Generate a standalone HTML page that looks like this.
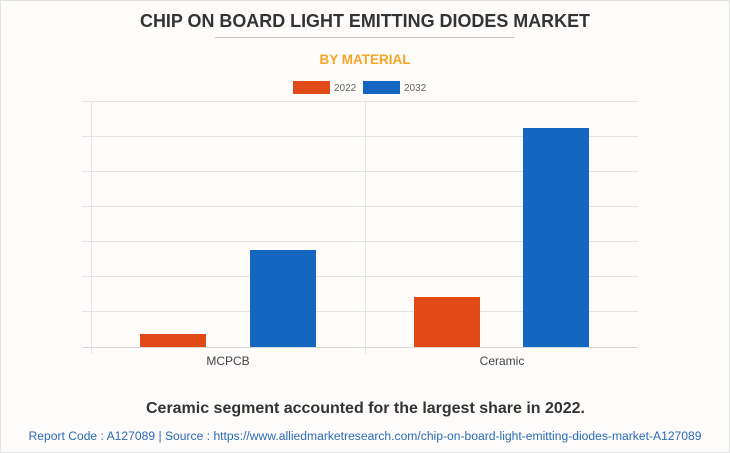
<!DOCTYPE html>
<html><head><style>
html,body{margin:0;padding:0;}
body{width:730px;height:453px;background:#fdfcfb;font-family:"Liberation Sans",sans-serif;position:relative;overflow:hidden;}
</style></head><body>
<svg width="730" height="453" xmlns="http://www.w3.org/2000/svg" style="position:absolute;left:0;top:0">
<rect x="0.5" y="0.5" width="729" height="452" fill="#fdfcfb" stroke="#e2e2e2"/>
<text x="140" y="27" font-family="Liberation Sans" font-weight="bold" font-size="18" fill="#333" textLength="450" lengthAdjust="spacingAndGlyphs">CHIP ON BOARD LIGHT EMITTING DIODES MARKET</text>
<line x1="215" y1="37.5" x2="515" y2="37.5" stroke="#c8c8c8" stroke-width="1"/>
<text x="365" y="64" text-anchor="middle" font-weight="bold" font-size="13.5" fill="#f6a623">BY MATERIAL</text>
<rect x="293" y="81" width="37" height="13" fill="#e04a17"/>
<text x="334" y="91" font-size="10" fill="#666">2022</text>
<rect x="363" y="81" width="37" height="13" fill="#1466c1"/>
<text x="404" y="91" font-size="10" fill="#666">2032</text>
<g stroke="#e4e4e4" stroke-width="1">
<line x1="82" y1="101.5" x2="638" y2="101.5"/>
<line x1="82" y1="136.5" x2="638" y2="136.5"/>
<line x1="82" y1="171.5" x2="638" y2="171.5"/>
<line x1="82" y1="206.5" x2="638" y2="206.5"/>
<line x1="82" y1="241.5" x2="638" y2="241.5"/>
<line x1="82" y1="276.5" x2="638" y2="276.5"/>
<line x1="82" y1="311.5" x2="638" y2="311.5"/>
<line x1="91.5" y1="101" x2="91.5" y2="354"/>
<line x1="365.5" y1="101" x2="365.5" y2="354"/>
</g>
<line x1="82" y1="347.5" x2="638" y2="347.5" stroke="#d8d8d8"/>
<rect x="140" y="334" width="66" height="13" fill="#e04a17"/>
<rect x="250" y="250" width="66" height="97" fill="#1466c1"/>
<rect x="414" y="297" width="66" height="50" fill="#e04a17"/>
<rect x="523" y="128" width="66" height="219" fill="#1466c1"/>
<text x="228" y="365" text-anchor="middle" font-size="12" fill="#444">MCPCB</text>
<text x="502" y="365" text-anchor="middle" font-size="12" fill="#444">Ceramic</text>
<text x="146" y="413" font-weight="bold" font-size="16" fill="#333" textLength="439" lengthAdjust="spacingAndGlyphs">Ceramic segment accounted for the largest share in 2022.</text>
<text x="365" y="440" text-anchor="middle" font-size="11.5" fill="#2a6ab8" textLength="673" lengthAdjust="spacingAndGlyphs">Report Code : A127089  |  Source : https://www.alliedmarketresearch.com/chip-on-board-light-emitting-diodes-market-A127089</text>
</svg>
</body></html>
